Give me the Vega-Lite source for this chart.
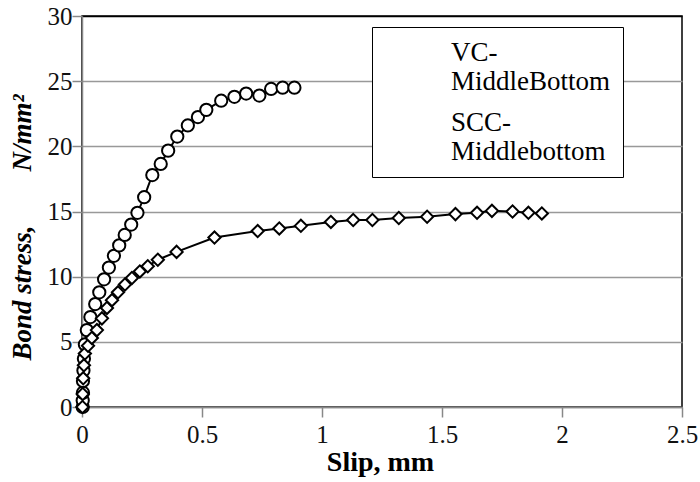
{
  "$schema": "https://vega.github.io/schema/vega-lite/v6.json",
  "width": 600,
  "height": 391,
  "autosize": "none",
  "padding": {"left": 82, "top": 16, "right": 18, "bottom": 75},
  "background": "white",
  "config": {
    "view": {"stroke": "black", "strokeWidth": 1.5},
    "font": "Liberation Serif"
  },
  "data": {
    "values": [
      {"series": "VC-MiddleBottom", "slip": 0.003, "stress": 0},
      {"series": "VC-MiddleBottom", "slip": 0.003, "stress": 0.5},
      {"series": "VC-MiddleBottom", "slip": 0.004, "stress": 1.1},
      {"series": "VC-MiddleBottom", "slip": 0.004, "stress": 2.0},
      {"series": "VC-MiddleBottom", "slip": 0.006, "stress": 2.8},
      {"series": "VC-MiddleBottom", "slip": 0.008, "stress": 3.7},
      {"series": "VC-MiddleBottom", "slip": 0.012, "stress": 4.8},
      {"series": "VC-MiddleBottom", "slip": 0.02, "stress": 5.9},
      {"series": "VC-MiddleBottom", "slip": 0.035, "stress": 6.9},
      {"series": "VC-MiddleBottom", "slip": 0.055, "stress": 7.9},
      {"series": "VC-MiddleBottom", "slip": 0.072, "stress": 8.8},
      {"series": "VC-MiddleBottom", "slip": 0.092, "stress": 9.8},
      {"series": "VC-MiddleBottom", "slip": 0.112, "stress": 10.7},
      {"series": "VC-MiddleBottom", "slip": 0.133, "stress": 11.6},
      {"series": "VC-MiddleBottom", "slip": 0.155, "stress": 12.4},
      {"series": "VC-MiddleBottom", "slip": 0.178, "stress": 13.2},
      {"series": "VC-MiddleBottom", "slip": 0.205, "stress": 14.0},
      {"series": "VC-MiddleBottom", "slip": 0.231, "stress": 14.9},
      {"series": "VC-MiddleBottom", "slip": 0.259, "stress": 16.1},
      {"series": "VC-MiddleBottom", "slip": 0.293, "stress": 17.8},
      {"series": "VC-MiddleBottom", "slip": 0.328, "stress": 18.65},
      {"series": "VC-MiddleBottom", "slip": 0.359, "stress": 19.67},
      {"series": "VC-MiddleBottom", "slip": 0.397, "stress": 20.75},
      {"series": "VC-MiddleBottom", "slip": 0.441, "stress": 21.6},
      {"series": "VC-MiddleBottom", "slip": 0.483, "stress": 22.25},
      {"series": "VC-MiddleBottom", "slip": 0.518, "stress": 22.8},
      {"series": "VC-MiddleBottom", "slip": 0.58, "stress": 23.5},
      {"series": "VC-MiddleBottom", "slip": 0.635, "stress": 23.8},
      {"series": "VC-MiddleBottom", "slip": 0.684, "stress": 24.05},
      {"series": "VC-MiddleBottom", "slip": 0.739, "stress": 23.9},
      {"series": "VC-MiddleBottom", "slip": 0.788, "stress": 24.4},
      {"series": "VC-MiddleBottom", "slip": 0.836, "stress": 24.5},
      {"series": "VC-MiddleBottom", "slip": 0.885, "stress": 24.5},
      {"series": "SCC-Middlebottom", "slip": 0.002, "stress": 0},
      {"series": "SCC-Middlebottom", "slip": 0.003, "stress": 1.0},
      {"series": "SCC-Middlebottom", "slip": 0.005, "stress": 2.2},
      {"series": "SCC-Middlebottom", "slip": 0.008, "stress": 3.2},
      {"series": "SCC-Middlebottom", "slip": 0.012, "stress": 4.1},
      {"series": "SCC-Middlebottom", "slip": 0.025, "stress": 4.7},
      {"series": "SCC-Middlebottom", "slip": 0.041, "stress": 5.3},
      {"series": "SCC-Middlebottom", "slip": 0.062, "stress": 5.9},
      {"series": "SCC-Middlebottom", "slip": 0.083, "stress": 6.8},
      {"series": "SCC-Middlebottom", "slip": 0.104, "stress": 7.6},
      {"series": "SCC-Middlebottom", "slip": 0.125, "stress": 8.2},
      {"series": "SCC-Middlebottom", "slip": 0.15, "stress": 8.8},
      {"series": "SCC-Middlebottom", "slip": 0.179, "stress": 9.4},
      {"series": "SCC-Middlebottom", "slip": 0.208, "stress": 9.9},
      {"series": "SCC-Middlebottom", "slip": 0.241, "stress": 10.4},
      {"series": "SCC-Middlebottom", "slip": 0.274, "stress": 10.8},
      {"series": "SCC-Middlebottom", "slip": 0.316, "stress": 11.3},
      {"series": "SCC-Middlebottom", "slip": 0.394, "stress": 11.9},
      {"series": "SCC-Middlebottom", "slip": 0.552, "stress": 13.0},
      {"series": "SCC-Middlebottom", "slip": 0.732, "stress": 13.5},
      {"series": "SCC-Middlebottom", "slip": 0.822, "stress": 13.7},
      {"series": "SCC-Middlebottom", "slip": 0.912, "stress": 13.9},
      {"series": "SCC-Middlebottom", "slip": 1.037, "stress": 14.2},
      {"series": "SCC-Middlebottom", "slip": 1.13, "stress": 14.35},
      {"series": "SCC-Middlebottom", "slip": 1.21, "stress": 14.35},
      {"series": "SCC-Middlebottom", "slip": 1.32, "stress": 14.5},
      {"series": "SCC-Middlebottom", "slip": 1.438, "stress": 14.6},
      {"series": "SCC-Middlebottom", "slip": 1.556, "stress": 14.8},
      {"series": "SCC-Middlebottom", "slip": 1.646, "stress": 14.9},
      {"series": "SCC-Middlebottom", "slip": 1.708, "stress": 15.05},
      {"series": "SCC-Middlebottom", "slip": 1.794, "stress": 15.0},
      {"series": "SCC-Middlebottom", "slip": 1.86, "stress": 14.9},
      {"series": "SCC-Middlebottom", "slip": 1.916, "stress": 14.85}
    ]
  },
  "encoding": {
    "x": {
      "field": "slip", "type": "quantitative",
      "scale": {"domain": [0, 2.5], "nice": false, "zero": false},
      "axis": {
        "title": "Slip, mm",
        "values": [0, 0.5, 1, 1.5, 2, 2.5],
        "format": "~g",
        "grid": false,
        "domainColor": "#888888", "domainWidth": 1.5,
        "tickColor": "#888888", "tickSize": 10, "tickWidth": 1.5,
        "labelFont": "Liberation Serif", "labelFontSize": 25, "labelColor": "#111111",
        "labelPadding": 5, "labelDx": 7, "labelFlush": false, "labelOverlap": false, "labelBound": false,
        "titleFont": "Liberation Serif", "titleFontSize": 28, "titleFontWeight": "bold", "titleColor": "#000000",
        "titleX": 298, "titleY": 55, "titleBaseline": "middle", "titleAnchor": "middle", "titleAlign": "center"
      }
    },
    "y": {
      "field": "stress", "type": "quantitative",
      "scale": {"domain": [0, 30], "nice": false},
      "axis": {
        "title": "Bond stress,\u2003\u2003N/mm\u00b2",
        "values": [0, 5, 10, 15, 20, 25, 30],
        "grid": true,
        "gridColor": {"condition": {"test": "datum.value == 30", "value": "#000000"}, "value": "#999999"},
        "gridWidth": 1.5,
        "domainColor": "#888888", "domainWidth": 1.5,
        "tickColor": "#888888", "tickSize": 10, "tickWidth": 1.5,
        "labelFont": "Liberation Serif", "labelFontSize": 25, "labelColor": "#111111",
        "labelPadding": 0, "labelFlush": false, "labelOverlap": false,
        "titleFont": "Liberation Serif", "titleFontSize": 27, "titleFontWeight": "bold", "titleFontStyle": "italic", "titleColor": "#000000",
        "titleX": -60, "titleY": 211, "titleAngle": -90, "titleBaseline": "middle", "titleAlign": "center", "titleAnchor": "middle"
      }
    }
  },
  "layer": [
    {
      "mark": {"type": "line", "color": "black", "strokeWidth": 2},
      "encoding": {"detail": {"field": "series"}}
    },
    {
      "mark": {"type": "point", "filled": true, "fill": "white", "stroke": "black", "strokeWidth": 2, "opacity": 1, "size": 150},
      "encoding": {
        "shape": {
          "field": "series", "type": "nominal",
          "scale": {"domain": ["VC-MiddleBottom", "SCC-Middlebottom"], "range": ["circle", "diamond"]},
          "legend": {
            "orient": "none", "legendX": 290, "legendY": 11,
            "title": null,
            "fillColor": "white", "strokeColor": "black", "padding": 12,
            "symbolSize": 400, "symbolFillColor": "white", "symbolStrokeColor": "black", "symbolStrokeWidth": 2,
            "labelFontSize": 27, "labelOffset": 40, "rowPadding": 13,
            "labelExpr": "datum.value == 'VC-MiddleBottom' ? ['VC-', 'MiddleBottom'] : ['SCC-', 'Middlebottom']"
          }
        }
      }
    }
  ]
}
